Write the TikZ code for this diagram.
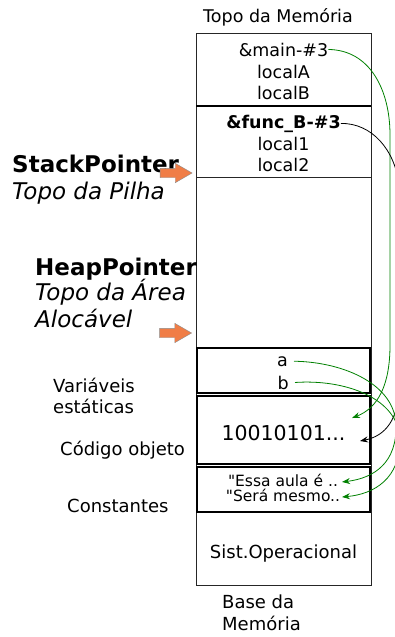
\documentclass[tikz,border=0pt]{standalone}
\usepackage{fontspec}
\setmainfont{DejaVu Sans}[Ligatures=TeXOff]
\usetikzlibrary{arrows.meta,shapes.arrows}
\definecolor{ptrgreen}{RGB}{0,128,0}
\definecolor{ptrorange}{RGB}{240,125,70}
\begin{document}
\begin{tikzpicture}[x=1pt,y=-1pt,
  txt/.style={inner sep=0pt, anchor=base, font=\fontsize{17.5}{21}\selectfont},
  lbl/.style={inner sep=0pt, anchor=base west, font=\fontsize{18}{21}\selectfont},
  big/.style={inner sep=0pt, anchor=base west, font=\fontsize{23}{27}\selectfont\bfseries},
  bigit/.style={inner sep=0pt, anchor=base west, font=\fontsize{23}{27}\selectfont\itshape},
  memline/.style={draw=black!85, line width=0.8pt},
  segbox/.style={draw=black, line width=2pt},
  ptr/.style={single arrow, fill=ptrorange, draw=black!45, line width=0.4pt, minimum height=32pt, inner xsep=0pt, inner ysep=4.5pt, single arrow head extend=5pt, single arrow tip angle=60},
  link/.style={-{Stealth[length=8pt,width=6pt]}, line width=0.8pt},
]
\useasboundingbox (0,0) rectangle (395,637);
\node[txt] (top) at (278,23) {Topo da Memória};
% memory column
\draw[memline] (196,33) rectangle (371,585);
\draw[line width=1.8pt] (196,106) -- (371,106);
\draw[memline] (196,177) -- (371,177);
\draw[segbox] (197,348) rectangle (370,393);
\draw[segbox] (197,396) rectangle (370,464);
\draw[segbox] (197,467) rectangle (370,512);
% stack frames
\node[txt] (m1) at (283.5,56) {\&main-\#3};
\node[txt] (m2) at (283.5,78) {localA};
\node[txt] (m3) at (283.5,99) {localB};
\node[txt,font=\fontsize{17.5}{21}\selectfont\bfseries] (f1) at (283.5,128) {\&func\_B-\#3};
\node[txt] (f2) at (283.5,150) {local1};
\node[txt] (f3) at (283.5,171) {local2};
% static, code, constants
\node[txt,anchor=base east] (va) at (288,366) {a};
\node[txt,anchor=base east] (vb) at (289,389) {b};
\node[txt,font=\fontsize{20.5}{24}\selectfont] (code) at (283.5,440) {10010101...};
\node[txt,font=\fontsize{15.5}{16}\selectfont] (c1) at (283,486) {"Essa aula é ..};
\node[txt,font=\fontsize{15.5}{16}\selectfont] (c2) at (283,501) {"Será mesmo..};
\node[txt,font=\fontsize{18}{21}\selectfont] (so) at (283.5,558) {Sist.Operacional};
\node[lbl] (base1) at (222,608) {Base da};
\node[lbl] (base2) at (222,630) {Memória};
% left labels
\node[big] (sp) at (12,172) {StackPointer};
\node[bigit] (spt) at (12,199) {Topo da Pilha};
\node[big] (hp) at (35,275) {HeapPointer};
\node[bigit] (hpt) at (35,300) {Topo da Área};
\node[bigit] (hpa) at (35,327) {Alocável};
\node[ptr] (spa) at (172,173) {};
\node[ptr] (hpa2) at (171.5,333) {};
\node[lbl] (ve1) at (53,392) {Variáveis};
\node[lbl] (ve2) at (53,413) {estáticas};
\node[lbl] (co) at (60,455) {Código objeto};
\node[lbl] (cn) at (67,512) {Constantes};
% links
\draw[link,ptrgreen] (m1.east) .. controls (370,50) and (390,90) .. (390,135) -- (390,345) .. controls (390,385) and (378,408) .. (352,418);
\draw[link] (f1.east) .. controls (372,123) and (395,150) .. (399,185) -- (399,385) .. controls (399,420) and (385,436) .. (360,441);
\draw[link,ptrgreen] ([xshift=6pt]va.east) .. controls (345,362) and (395,385) .. (396,425) .. controls (397,462) and (375,478) .. (342,482);
\draw[link,ptrgreen] ([xshift=6pt]vb.east) .. controls (345,379) and (399,398) .. (400,440) .. controls (400,478) and (375,494) .. (342,497);
\end{tikzpicture}
\end{document}
